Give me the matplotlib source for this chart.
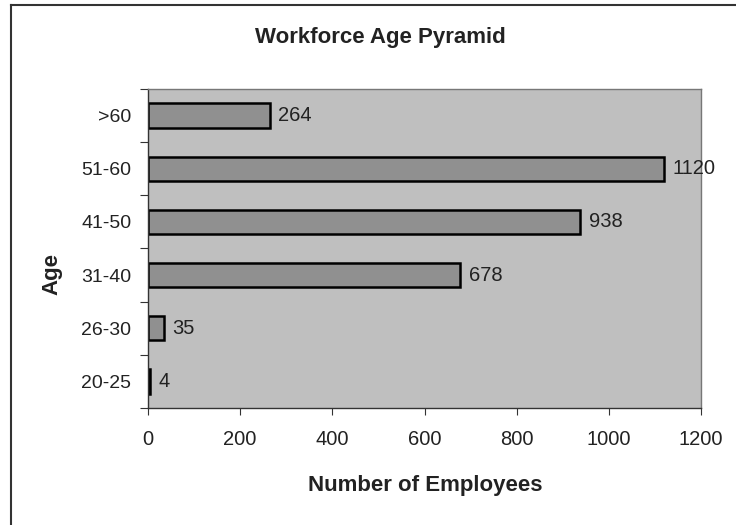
import matplotlib
matplotlib.use("Agg")
import matplotlib.pyplot as plt
from matplotlib.lines import Line2D
import numpy as np

categories = ["20-25", "26-30", "31-40", "41-50", "51-60", ">60"]
employees = [4, 35, 678, 938, 1120, 264]
x_ticks = [0, 200, 400, 600, 800, 1000, 1200]

plt.rcParams['font.family'] = ['Liberation Sans', 'DejaVu Sans']

fig = plt.figure(figsize=(7.36, 5.25), dpi=100)
ax = fig.add_axes([148/736, 1-408/525, 553/736, 319/525])
ax.set_facecolor('#bfbfbf')

y = np.arange(len(categories))
ax.barh(y, employees, height=0.46, color='#909090', edgecolor='black', linewidth=1.8)
for yi, v in zip(y, employees):
    ax.annotate(str(v), xy=(v, yi), xytext=(6, 0), textcoords='offset points',
                va='center', ha='left', fontsize=14.5, color='#222222')

ax.set_xlim(0, 1200)
ax.set_ylim(-0.5, len(categories) - 0.5)
ax.set_xticks(x_ticks)
ax.set_xticklabels([str(t) for t in x_ticks], fontsize=14.5, color='#222222')
ax.tick_params(axis='x', direction='out', length=5, pad=11, color='#333333')

ax.set_yticks(np.arange(-0.5, len(categories), 1.0))
ax.set_yticklabels([])
ax.set_yticks(y, minor=True)
ax.set_yticklabels(categories, minor=True, fontsize=14, color='#222222')
ax.tick_params(axis='y', which='major', direction='out', length=6, color='#333333')
ax.tick_params(axis='y', which='minor', length=0, pad=12)

for side in ['top', 'right']:
    ax.spines[side].set_color('#777777')
    ax.spines[side].set_linewidth(1.0)
for side in ['left', 'bottom']:
    ax.spines[side].set_color('#333333')
    ax.spines[side].set_linewidth(1.0)

fig.text(380/736, 1-43/525, "Workforce Age Pyramid", ha='center', va='baseline',
         fontsize=16, fontweight='bold', color='#222222')
fig.text(425/736, 1-491/525, "Number of Employees", ha='center', va='baseline',
         fontsize=16, fontweight='bold', color='#222222')
fig.text(52/736, 1-274/525, "Age", ha='center', va='center', rotation=90,
         fontsize=16, fontweight='bold', color='#222222')

fig.add_artist(Line2D([11/736, 11/736], [0, 1-5/525], transform=fig.transFigure,
                      color='#333333', linewidth=1.5))
fig.add_artist(Line2D([11/736, 1], [1-5/525, 1-5/525], transform=fig.transFigure,
                      color='#333333', linewidth=1.5))

fig.savefig("out.png", dpi=100)
